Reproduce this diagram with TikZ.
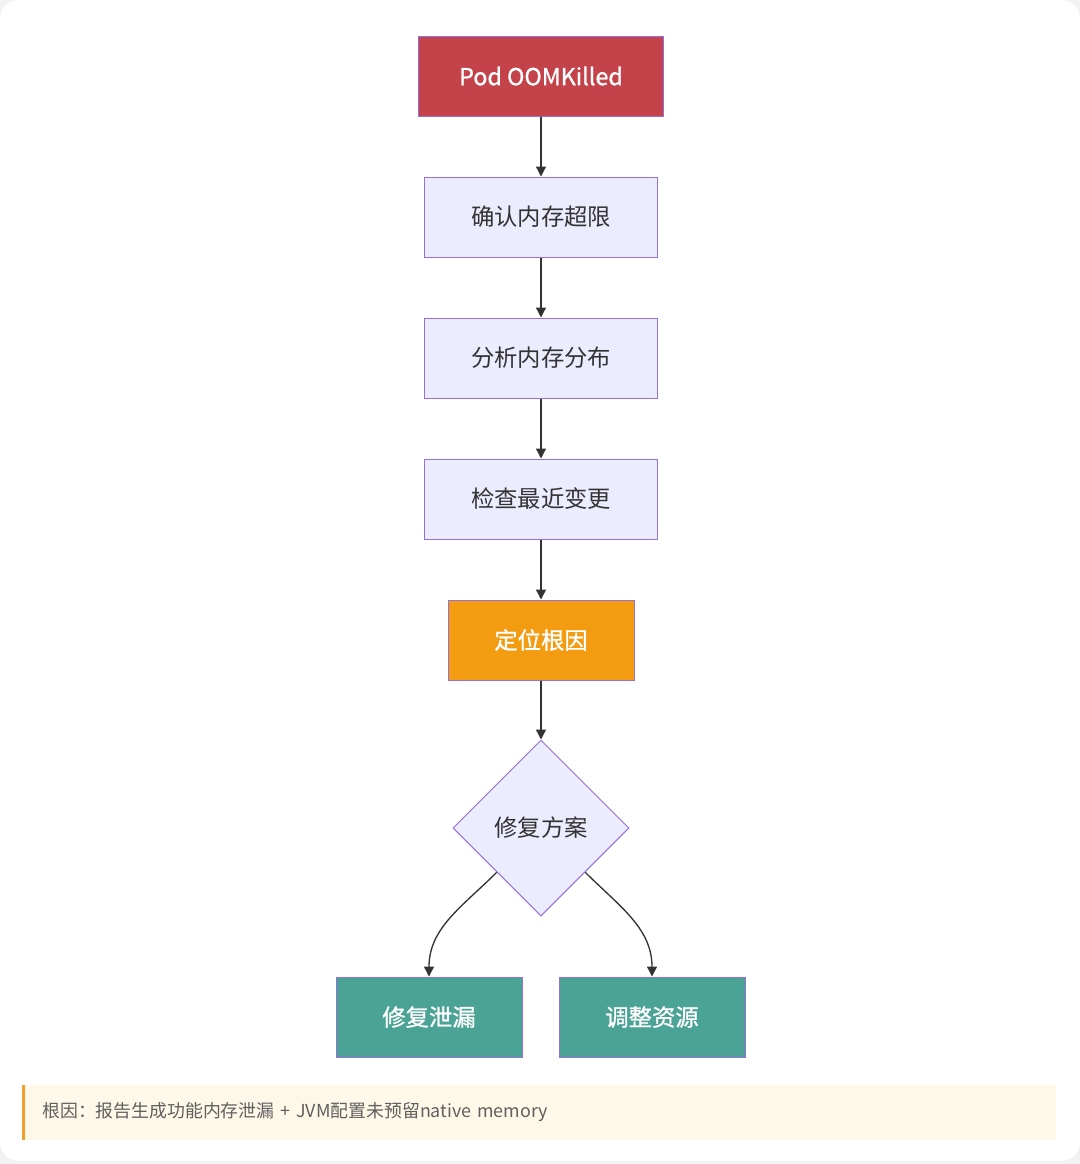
\documentclass[tikz,border=0pt]{standalone}
\usepackage{fontspec}
\usepackage{tikz}
\usetikzlibrary{shapes.geometric, arrows.meta, positioning, calc}
\usepackage{xcolor}
\newfontfamily\cjk{Noto Sans CJK SC}
\newfontfamily\cjkmid{Noto Sans CJK SC}[FakeBold=1]
\definecolor{pagegray}{RGB}{242,242,242}
\definecolor{alertred}{RGB}{196,67,74}
\definecolor{steplilac}{RGB}{236,236,255}
\definecolor{rootorange}{RGB}{243,156,18}
\definecolor{fixteal}{RGB}{74,163,148}
\definecolor{edgepurple}{RGB}{147,112,219}
\definecolor{linegray}{RGB}{51,51,51}
\definecolor{textgray}{RGB}{51,51,51}
\definecolor{notecream}{RGB}{253,248,231}
\definecolor{notebar}{RGB}{240,160,40}
\definecolor{notetext}{RGB}{95,95,95}
\tikzset{
  base/.style={draw=edgepurple, line width=0.75pt, align=center,
               font=\cjk\fontsize{17.5}{20}\selectfont, minimum height=60pt},
  alert/.style   = {base, fill=alertred,   text=white, font=\cjkmid\fontsize{17.5}{20}\selectfont,
                    minimum width=183.75pt},
  stepbox/.style = {base, fill=steplilac,  text=textgray, minimum width=174.75pt},
  root/.style    = {base, fill=rootorange, text=white, font=\cjkmid\fontsize{17.5}{20}\selectfont,
                    minimum width=139.5pt},
  decide/.style  = {base, diamond, aspect=1, inner sep=0pt, fill=steplilac, text=textgray,
                    minimum width=132pt, minimum height=132pt},
  fixbox/.style  = {base, fill=fixteal,    text=white, font=\cjkmid\fontsize{17.5}{20}\selectfont,
                    minimum width=139.5pt},
  notebox/.style = {fill=notecream, text=notetext, align=left, inner xsep=15pt,
                    text width=745.5pt, minimum height=41.25pt,
                    font=\cjk\fontsize{13.4}{16}\selectfont},
  arr/.style     = {-{Triangle[length=7.5pt, width=7.5pt]}, line width=1pt, color=linegray},
}

\begin{document}
\begin{tikzpicture}[x=0.75pt, y=0.75pt]
  \useasboundingbox (0,0) rectangle (1080,-1164);
  \fill[pagegray] (0,0) rectangle (1080,-1164);
  \fill[white, rounded corners=14pt] (0,0) rectangle (1080,-1161);

  \node[alert]   (oom)     at (541,-76)  {Pod OOMKilled};
  \node[stepbox] (confirm) at (541,-217) {确认内存超限};
  \node[stepbox] (analyze) at (541,-358) {分析内存分布};
  \node[stepbox] (check)   at (541,-499) {检查最近变更};
  \node[root]    (locate)  at (541,-640) {定位根因};
  \node[decide]  (fix)     at (541,-828) {修复方案};
  \node[fixbox]  (leak)    at (429,-1017) {修复泄漏};
  \node[fixbox]  (resize)  at (652,-1017) {调整资源};

  \draw[arr] (oom) -- (confirm);
  \draw[arr] (confirm) -- (analyze);
  \draw[arr] (analyze) -- (check);
  \draw[arr] (check) -- (locate);
  \draw[arr] (locate) -- (fix);
  \draw[arr] (fix.south west) to[out=225, in=90] (leak);
  \draw[arr] (fix.south east) to[out=-45, in=90] (resize);

  % note at the bottom
  \node[notebox, anchor=west] (note) at (22,-1112.5)
    {根因：报告生成功能内存泄漏 + JVM配置未预留native memory};
  \draw[notebar, line width=2.25pt] ($(note.north west)+(1.5,0)$) -- ($(note.south west)+(1.5,0)$);
\end{tikzpicture}
\end{document}
